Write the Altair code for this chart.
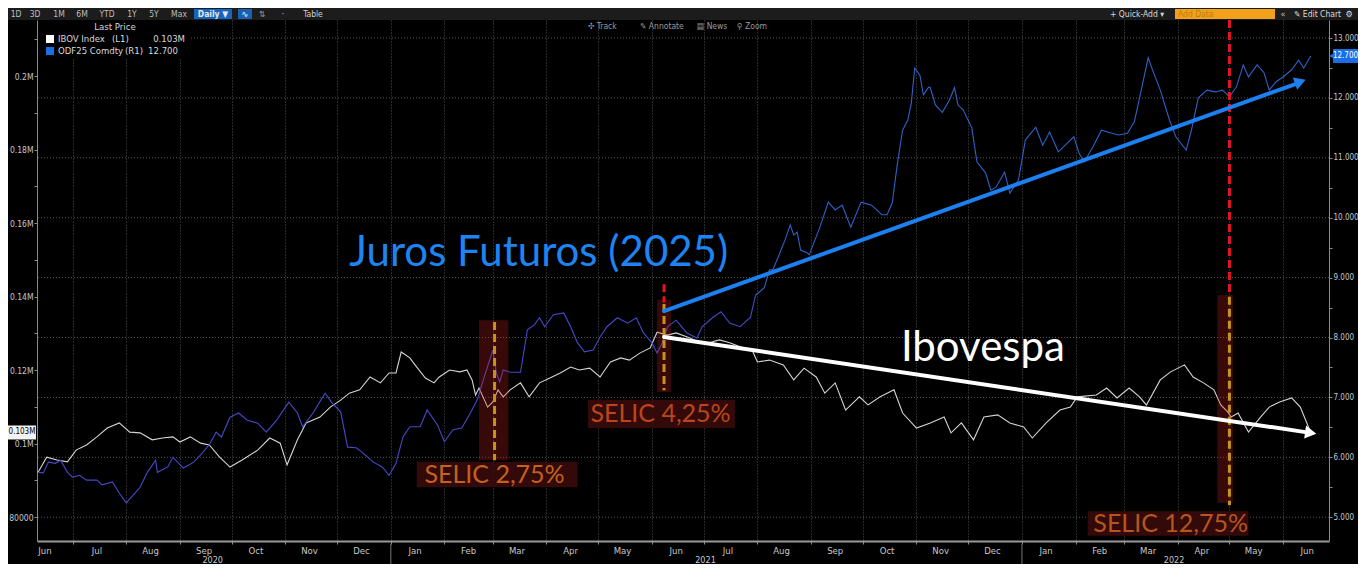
import altair as alt
import pandas as pd

# ---------------- data ----------------
ibov_dates = [
    "2020-06-11", "2020-06-16", "2020-06-22", "2020-06-28", "2020-07-03", "2020-07-09", "2020-07-15",
    "2020-07-21", "2020-07-28", "2020-08-03", "2020-08-09", "2020-08-16", "2020-08-22", "2020-08-28",
    "2020-09-01", "2020-09-07", "2020-09-13", "2020-09-18", "2020-09-24", "2020-09-30", "2020-10-07",
    "2020-10-16", "2020-10-23", "2020-10-29", "2020-11-02", "2020-11-08", "2020-11-13", "2020-11-21",
    "2020-11-27", "2020-12-03", "2020-12-08", "2020-12-14", "2020-12-20", "2020-12-26", "2020-12-31",
    "2021-01-04", "2021-01-07", "2021-01-12", "2021-01-16", "2021-01-21", "2021-01-26", "2021-01-29",
    "2021-02-04", "2021-02-10", "2021-02-14", "2021-02-17", "2021-02-19", "2021-02-21", "2021-02-26",
    "2021-03-01", "2021-03-04", "2021-03-07", "2021-03-11", "2021-03-17", "2021-03-22", "2021-03-28",
    "2021-04-03", "2021-04-09", "2021-04-15", "2021-04-20", "2021-04-26", "2021-05-02", "2021-05-08",
    "2021-05-14", "2021-05-19", "2021-05-25", "2021-05-31", "2021-06-04", "2021-06-10", "2021-06-15",
    "2021-06-23", "2021-06-29", "2021-07-04", "2021-07-10", "2021-07-16", "2021-07-22", "2021-07-29",
    "2021-08-01", "2021-08-08", "2021-08-16", "2021-08-22", "2021-08-28", "2021-09-04", "2021-09-09",
    "2021-09-15", "2021-09-21", "2021-09-29", "2021-10-04", "2021-10-11", "2021-10-19", "2021-10-24",
    "2021-11-01", "2021-11-09", "2021-11-17", "2021-11-21", "2021-11-27", "2021-12-04", "2021-12-10",
    "2021-12-18", "2021-12-25", "2022-01-02", "2022-01-07", "2022-01-15", "2022-01-23", "2022-01-29",
    "2022-02-02", "2022-02-13", "2022-02-19", "2022-02-25", "2022-03-04", "2022-03-10", "2022-03-14",
    "2022-03-22", "2022-03-28", "2022-04-05", "2022-04-10", "2022-04-16", "2022-04-22", "2022-04-26",
    "2022-04-30", "2022-05-02", "2022-05-06", "2022-05-12", "2022-05-19", "2022-05-24", "2022-05-30",
    "2022-06-06", "2022-06-11", "2022-06-17",
]
ibov_values = [
    92200, 96300, 95500, 95000, 98200, 99600, 101800,
    104200, 105600, 103100, 102900, 101000, 101500, 101800,
    100400, 101800, 100100, 99600, 96300, 93600, 95500,
    98200, 101500, 100100, 94200, 101000, 105600, 107200,
    109900, 111800, 113700, 114600, 118100, 116500, 119200,
    119200, 124900, 123300, 120800, 117800, 116500, 118100,
    120000, 119500, 120000, 117300, 113200, 115100, 109900,
    111300, 114600, 112700, 114600, 116500, 112700, 116500,
    117800, 119200, 120800, 120000, 120500, 118100, 122200,
    123300, 122700, 124600, 126000, 130300, 129500, 130100,
    128700, 127400, 127400, 128200, 127400, 126300, 125400,
    122200, 122700, 121400, 117300, 120500, 118100, 113700,
    116500, 109100, 112700, 110500, 112700, 114600, 108300,
    104200, 105600, 107200, 102900, 105600, 101000, 107200,
    107800, 105600, 104500, 101500, 105600, 109100, 109900,
    112700, 113200, 115100, 112400, 115100, 112700, 110500,
    117300, 119500, 121400, 118100, 116500, 114600, 110500,
    108600, 107200, 108300, 103100, 107200, 109900, 111300,
    112400, 109900, 103000,
]

odf_dates = [
    "2020-06-11", "2020-06-14", "2020-06-17", "2020-06-21", "2020-06-24", "2020-06-28", "2020-07-01",
    "2020-07-05", "2020-07-09", "2020-07-15", "2020-07-18", "2020-07-24", "2020-07-28", "2020-08-01",
    "2020-08-05", "2020-08-09", "2020-08-13", "2020-08-18", "2020-08-19", "2020-08-25", "2020-08-28",
    "2020-09-03", "2020-09-09", "2020-09-13", "2020-09-18", "2020-09-22", "2020-09-25", "2020-09-30",
    "2020-10-05", "2020-10-10", "2020-10-16", "2020-10-21", "2020-10-27", "2020-11-03", "2020-11-08",
    "2020-11-11", "2020-11-17", "2020-11-24", "2020-11-28", "2020-12-03", "2020-12-07", "2020-12-12",
    "2020-12-16", "2020-12-22", "2020-12-27", "2020-12-31", "2021-01-04", "2021-01-08", "2021-01-12",
    "2021-01-18", "2021-01-22", "2021-01-28", "2021-02-01", "2021-02-06", "2021-02-11", "2021-02-16",
    "2021-02-20", "2021-02-24", "2021-03-01", "2021-03-03", "2021-03-05", "2021-03-07", "2021-03-11",
    "2021-03-17", "2021-03-21", "2021-03-25", "2021-03-28", "2021-03-31", "2021-04-05", "2021-04-11",
    "2021-04-15", "2021-04-19", "2021-04-23", "2021-04-28", "2021-05-02", "2021-05-06", "2021-05-12",
    "2021-05-18", "2021-05-23", "2021-05-27", "2021-06-01", "2021-06-04", "2021-06-07", "2021-06-10",
    "2021-06-15", "2021-06-21", "2021-06-27", "2021-06-30", "2021-07-06", "2021-07-11", "2021-07-16",
    "2021-07-22", "2021-07-28", "2021-07-31", "2021-08-05", "2021-08-08", "2021-08-10", "2021-08-14",
    "2021-08-17", "2021-08-20", "2021-08-22", "2021-08-24", "2021-08-26", "2021-08-30", "2021-08-31",
    "2021-09-04", "2021-09-06", "2021-09-11", "2021-09-15", "2021-09-19", "2021-09-24", "2021-09-30",
    "2021-10-06", "2021-10-12", "2021-10-15", "2021-10-18", "2021-10-21", "2021-10-24", "2021-10-27",
    "2021-10-29", "2021-10-31", "2021-11-03", "2021-11-05", "2021-11-08", "2021-11-09", "2021-11-12",
    "2021-11-16", "2021-11-20", "2021-11-23", "2021-11-25", "2021-11-28", "2021-12-03", "2021-12-06",
    "2021-12-11", "2021-12-14", "2021-12-17", "2021-12-22", "2021-12-25", "2021-12-30", "2022-01-03",
    "2022-01-09", "2022-01-13", "2022-01-17", "2022-01-22", "2022-01-26", "2022-01-31", "2022-02-03",
    "2022-02-06", "2022-02-11", "2022-02-16", "2022-02-22", "2022-02-26", "2022-03-03", "2022-03-07",
    "2022-03-11", "2022-03-15", "2022-03-18", "2022-03-22", "2022-03-27", "2022-03-31", "2022-04-06",
    "2022-04-09", "2022-04-13", "2022-04-18", "2022-04-23", "2022-04-27", "2022-05-01", "2022-05-05",
    "2022-05-09", "2022-05-12", "2022-05-17", "2022-05-21", "2022-05-24", "2022-05-28", "2022-06-01",
    "2022-06-06", "2022-06-10", "2022-06-13", "2022-06-17",
]
odf_values = [
    5.75, 5.74, 5.92, 5.90, 5.95, 5.75, 5.67,
    5.70, 5.62, 5.62, 5.54, 5.59, 5.40, 5.24,
    5.37, 5.50, 5.74, 5.95, 5.75, 5.84, 6.00,
    5.82, 5.92, 6.04, 6.21, 6.42, 6.34, 6.67,
    6.74, 6.62, 6.57, 6.42, 6.62, 6.92, 6.74,
    6.51, 6.74, 7.07, 6.91, 6.76, 6.17, 6.16,
    6.07, 5.92, 5.84, 5.70, 5.90, 6.34, 6.51,
    6.51, 6.79, 6.54, 6.26, 6.46, 6.49, 6.74,
    6.96, 7.34, 7.79, 7.41, 7.26, 7.46, 7.42,
    7.42, 8.13, 8.21, 8.33, 8.18, 8.38, 8.41,
    8.18, 7.91, 7.76, 7.79, 8.01, 8.18, 8.33,
    8.24, 8.33, 8.08, 7.91, 7.74, 7.91, 8.18,
    8.29, 8.08, 7.99, 8.18, 8.33, 8.43, 8.24,
    8.18, 8.34, 8.71, 8.83, 9.13, 9.13, 9.41,
    9.63, 9.88, 9.71, 9.76, 9.46, 9.41, 9.38,
    9.68, 9.83, 10.26, 10.13, 10.21, 9.84, 10.26,
    10.21, 10.05, 10.05, 10.25, 10.91, 11.46, 11.63,
    11.91, 12.50, 12.38, 12.05, 12.18, 12.17, 11.88,
    11.76, 11.96, 12.17, 11.88, 11.80, 11.50, 10.93,
    10.75, 10.46, 10.51, 10.76, 10.41, 10.63, 11.30,
    11.51, 11.21, 11.43, 11.10, 11.21, 11.35, 11.08,
    10.93, 11.18, 11.46, 11.41, 11.38, 11.41, 11.60,
    12.13, 12.67, 12.43, 12.13, 11.66, 11.35, 11.13,
    11.46, 12.00, 12.13, 12.10, 12.13, 12.02, 12.18,
    12.55, 12.35, 12.55, 12.42, 12.13, 12.27, 12.35,
    12.47, 12.63, 12.50, 12.70,
]
odf_colour_change = "2021-07-31"

# axis ticks / labels
left_tick_values = list(range(80000, 210001, 10000))
right_tick_values = [5.0, 5.5, 6.0, 6.5, 7.0, 7.5, 8.0, 8.5, 9.0, 9.5, 10.0, 10.5, 11.0, 11.5, 12.0, 12.5, 13.0]
right_grid_values = [5, 6, 7, 8, 9, 10, 11, 12, 13]
month_labels = ["Jun", "Jul", "Aug", "Sep", "Oct", "Nov", "Dec", "Jan", "Feb", "Mar", "Apr", "May",
                "Jun", "Jul", "Aug", "Sep", "Oct", "Nov", "Dec", "Jan", "Feb", "Mar", "Apr", "May", "Jun"]
year_labels = ["2020", "2021", "2022"]
year_label_dates = ["2020-09-20", "2021-07-02", "2022-03-30"]
year_break_dates = ["2021-01-01", "2022-01-01"]

last_ibov = [103000]
last_ibov_text = ["0.103M"]
last_odf = [12.70]
last_odf_text = ["12.700"]

# SELIC annotations (right-axis units)
selic_labels = ["SELIC 2,75%", "SELIC 4,25%", "SELIC 12,75%"]
selic_label_dates = ["2021-03-02", "2021-06-06", "2022-03-28"]
selic_label_values = [5.71, 6.72, 4.89]
selic_label_colors = ["#c2621f", "#b9461c", "#b5561e"]
selic_box_start = ["2021-01-16", "2021-04-25", "2022-02-08"]
selic_box_end = ["2021-04-19", "2021-07-19", "2022-05-12"]
selic_box_top = [5.92, 6.96, 5.10]
selic_box_bottom = [5.50, 6.49, 4.69]
band_start = ["2021-02-21", "2021-06-04", "2022-04-24"]
band_end = ["2021-03-10", "2021-06-12", "2022-05-03"]
band_top = [8.29, 8.63, 8.71]
band_bottom = [5.95, 7.09, 5.24]
gold_dates = ["2021-03-02", "2021-06-08", "2022-05-01"]
gold_top = [8.26, 8.56, 8.68]
gold_bottom = [5.95, 7.12, 5.20]
red_dates = ["2021-06-08", "2022-05-01"]
red_top = [8.89, 13.30]
red_bottom = [8.59, 8.71]

# trend arrows
blue_arrow_dates = ["2021-06-08", "2022-06-09"]
blue_arrow_values = [8.44, 12.24]
blue_head_date = ["2022-06-11"]
blue_head_value = [12.27]
white_arrow_dates = ["2021-06-08", "2022-06-14"]
white_arrow_values = [129000, 103100]
white_head_date = ["2022-06-17"]
white_head_value = [102900]

title_juros = ["Juros Futuros (2025)"]
title_juros_date = ["2020-12-08"]
title_juros_value = [9.19]
title_ibov = ["Ibovespa"]
title_ibov_date = ["2021-10-23"]
title_ibov_value = [7.61]

# ---------------- chart ----------------
W, H = 1292, 521
FONT_UI = "Liberation Sans Narrow, DejaVu Sans Condensed, Roboto Condensed, Liberation Sans, sans-serif"
FONT_ANN = "Lato"

ibov_scale = alt.Scale(domain=[73474, 215238], nice=False, zero=False)
odf_scale = alt.Scale(domain=[4.603, 13.3005], nice=False, zero=False)
x_scale = alt.Scale(domain=[alt.DateTime(year=2020, month=6, date=10, hours=9),
                            alt.DateTime(year=2022, month=6, date=27, hours=14)])
month_starts = pd.date_range("2020-07-01", "2022-06-01", freq="MS")
x_axis = alt.Axis(values=[alt.DateTime(year=int(d.year), month=int(d.month), date=1) for d in month_starts],
                  labels=False, ticks=True, tickSize=3, tickColor="#8a8a8a",
                  domainColor="#9a9a9a", domainWidth=2, grid=True, gridColor="#555555",
                  gridDash=[1, 2], gridWidth=1, title=None)


def X(field):
    return alt.X(f"{field}:T", scale=x_scale, axis=x_axis)


def YI(field, axis=None):
    return alt.Y(f"{field}:Q", scale=ibov_scale, axis=axis)


def YO(field, axis=None):
    return alt.Y(f"{field}:Q", scale=odf_scale, axis=axis)


left_axis = alt.Axis(orient="left", values=left_tick_values,
                     labelExpr="datum.value % 20000 == 0 ? (datum.value >= 100000 ? format(datum.value / 1000000, '.2~f') + 'M' : format(datum.value, 'd')) : ''",
                     tickSize=3, labelPadding=1, tickColor="#8a8a8a", domainColor="#8a8a8a",
                     labelColor="#c8c8c8", labelFont=FONT_UI, labelFontSize=8.5, grid=False, title=None)
right_axis = alt.Axis(orient="right", values=right_tick_values,
                      labelExpr="datum.value % 1 == 0 ? format(datum.value, '.3f') : ''",
                      tickSize=3, labelPadding=1, tickColor="#8a8a8a", domainColor="#8a8a8a",
                      labelColor="#c8c8c8", labelFont=FONT_UI, labelFontSize=8, grid=False, title=None)

df_ibov = pd.DataFrame({"date": pd.to_datetime(ibov_dates), "v": ibov_values})
df_odf = pd.DataFrame({"date": pd.to_datetime(odf_dates), "v": odf_values})
cut = pd.Timestamp(odf_colour_change)
df_odf_a = df_odf[df_odf["date"] <= cut]
df_odf_b = df_odf[df_odf["date"] >= cut]

layers = []

# horizontal grid (right-axis units)
layers.append(alt.Chart(pd.DataFrame({"v": right_grid_values})).mark_rule(
    color="#555555", strokeDash=[1, 2], strokeWidth=1).encode(y=YO("v")))

# series
layers.append(alt.Chart(df_ibov).mark_line(color="#d4d4d4", strokeWidth=1.1, clip=True).encode(
    x=X("date"), y=YI("v", left_axis)))
layers.append(alt.Chart(df_odf_a).mark_line(color="#4649c8", strokeWidth=1.1, clip=True).encode(
    x=X("date"), y=YO("v", right_axis)))
layers.append(alt.Chart(df_odf_b).mark_line(color="#2f62c8", strokeWidth=1.1, clip=True).encode(
    x=X("date"), y=YO("v")))

# SELIC highlight bands
df_band = pd.DataFrame({"s": pd.to_datetime(band_start), "e": pd.to_datetime(band_end),
                        "t": band_top, "b": band_bottom})
layers.append(alt.Chart(df_band).mark_rect(color="#d02020", opacity=0.27).encode(
    x=X("s"), x2="e", y=YO("t"), y2="b"))
df_gold = pd.DataFrame({"d": pd.to_datetime(gold_dates), "t": gold_top, "b": gold_bottom})
layers.append(alt.Chart(df_gold).mark_rule(color="#c8921e", strokeWidth=3, strokeDash=[8, 4]).encode(
    x=X("d"), y=YO("t"), y2="b"))
df_red = pd.DataFrame({"d": pd.to_datetime(red_dates), "t": red_top, "b": red_bottom})
layers.append(alt.Chart(df_red).mark_rule(color="#e8141e", strokeWidth=3, strokeDash=[8, 4], clip=True).encode(
    x=X("d"), y=YO("t"), y2="b"))

# SELIC labels
df_box = pd.DataFrame({"s": pd.to_datetime(selic_box_start), "e": pd.to_datetime(selic_box_end),
                       "t": selic_box_top, "b": selic_box_bottom})
layers.append(alt.Chart(df_box).mark_rect(color="#3a0a0a", opacity=0.9).encode(
    x=X("s"), x2="e", y=YO("t"), y2="b"))
df_sl = pd.DataFrame({"d": pd.to_datetime(selic_label_dates), "v": selic_label_values,
                      "t": selic_labels, "c": selic_label_colors})
layers.append(alt.Chart(df_sl).mark_text(font=FONT_ANN, fontSize=25, align="center", baseline="middle").encode(
    x=X("d"), y=YO("v"), text="t:N", color=alt.Color("c:N", scale=None)))

# trend arrows
df_ba = pd.DataFrame({"x0": [pd.Timestamp(blue_arrow_dates[0])], "x1": [pd.Timestamp(blue_arrow_dates[1])],
                      "y0": [blue_arrow_values[0]], "y1": [blue_arrow_values[1]]})
layers.append(alt.Chart(df_ba).mark_rule(color="#1d80f0", strokeWidth=4, strokeCap="round").encode(
    x=X("x0"), x2="x1", y=YO("y0"), y2="y1"))
layers.append(alt.Chart(pd.DataFrame({"d": pd.to_datetime(blue_head_date), "v": blue_head_value})).mark_point(
    shape="triangle-right", filled=True, size=170, angle=340.3, color="#1d80f0", opacity=1).encode(
    x=X("d"), y=YO("v")))
df_wa = pd.DataFrame({"x0": [pd.Timestamp(white_arrow_dates[0])], "x1": [pd.Timestamp(white_arrow_dates[1])],
                      "y0": [white_arrow_values[0]], "y1": [white_arrow_values[1]]})
layers.append(alt.Chart(df_wa).mark_rule(color="#ffffff", strokeWidth=4, strokeCap="round").encode(
    x=X("x0"), x2="x1", y=YI("y0"), y2="y1"))
layers.append(alt.Chart(pd.DataFrame({"d": pd.to_datetime(white_head_date), "v": white_head_value})).mark_point(
    shape="triangle-right", filled=True, size=170, angle=8.4, color="#ffffff", opacity=1).encode(
    x=X("d"), y=YI("v")))

# big annotation texts
layers.append(alt.Chart(pd.DataFrame({"d": pd.to_datetime(title_juros_date), "v": title_juros_value,
                                      "t": title_juros})).mark_text(
    font=FONT_ANN, fontSize=42, align="left", baseline="alphabetic", color="#1d84f2").encode(
    x=X("d"), y=YO("v"), text="t:N"))
layers.append(alt.Chart(pd.DataFrame({"d": pd.to_datetime(title_ibov_date), "v": title_ibov_value,
                                      "t": title_ibov})).mark_text(
    font=FONT_ANN, fontSize=42, align="left", baseline="alphabetic", color="#ffffff").encode(
    x=X("d"), y=YO("v"), text="t:N"))


# ---------- UI chrome ----------
def ui_rect(x, x2, y, y2, color):
    return alt.Chart(pd.DataFrame({"k": [0]})).mark_rect(color=color).encode(
        x=alt.value(x), x2=alt.value(x2), y=alt.value(y), y2=alt.value(y2))


def ui_text(t, x, y, size=9, color="#c8c8c8", align="left", weight="normal", font=FONT_UI):
    return alt.Chart(pd.DataFrame({"t": [t]})).mark_text(
        align=align, baseline="middle", fontSize=size, color=color, font=font, fontWeight=weight).encode(
        x=alt.value(x), y=alt.value(y), text="t:N")


# legend box
layers.append(ui_rect(1, 153, 0, 38, "#000000"))
layers.append(ui_text("Last Price", 78, 7, 9.5, "#d8d8d8", "center"))
layers.append(ui_rect(9, 17, 15, 23, "#ffffff"))
layers.append(ui_text("IBOV Index", 21, 19, 9.5, "#d8d8d8"))
layers.append(ui_text("(L1)", 75, 19, 9.5, "#d8d8d8"))
layers.append(ui_text("0.103M", 148, 19, 9.5, "#d8d8d8", "right"))
layers.append(ui_rect(9, 17, 27, 35, "#1a6ee8"))
layers.append(ui_text("ODF25 Comdty", 21, 31, 9.5, "#d8d8d8"))
layers.append(ui_text("(R1)", 88, 31, 9.5, "#d8d8d8"))
layers.append(ui_text("12.700", 141, 31, 9.5, "#d8d8d8", "right"))

# last-price tags on the axes
df_tl = pd.DataFrame({"v": last_ibov, "t": last_ibov_text})
layers.append(alt.Chart(df_tl).mark_rect(color="#f2f2f2", yOffset=-7, y2Offset=7).encode(
    x=alt.value(-29), x2=alt.value(-1), y=YI("v"), y2="v"))
layers.append(alt.Chart(df_tl).mark_text(color="#000000", fontSize=8, font=FONT_UI,
                                         align="center", baseline="middle").encode(
    x=alt.value(-15), y=YI("v"), text="t:N"))
df_tr = pd.DataFrame({"v": last_odf, "t": last_odf_text})
layers.append(alt.Chart(df_tr).mark_point(shape="triangle-left", filled=True, size=45, color="#1a6ee8",
                                          opacity=1).encode(x=alt.value(W + 3), y=YO("v")))
layers.append(alt.Chart(df_tr).mark_rect(color="#1a6ee8", yOffset=-7, y2Offset=7).encode(
    x=alt.value(W + 4), x2=alt.value(W + 29), y=YO("v"), y2="v"))
layers.append(alt.Chart(df_tr).mark_text(color="#ffffff", fontSize=8, font=FONT_UI,
                                         align="center", baseline="middle").encode(
    x=alt.value(W + 16.5), y=YO("v"), text="t:N"))

# x-axis month and year labels
mid_months = pd.date_range("2020-06-01", "2022-06-01", freq="MS") + pd.Timedelta(days=14)
df_months = pd.DataFrame({"d": mid_months, "t": month_labels})
layers.append(alt.Chart(df_months).mark_text(color="#c8c8c8", fontSize=9.5, font=FONT_UI,
                                             align="center", baseline="middle").encode(
    x=X("d"), y=alt.value(H + 10), text="t:N"))
df_years = pd.DataFrame({"d": pd.to_datetime(year_label_dates), "t": year_labels})
layers.append(alt.Chart(df_years).mark_text(color="#c8c8c8", fontSize=9, font=FONT_UI,
                                            align="center", baseline="middle").encode(
    x=X("d"), y=alt.value(H + 18.5), text="t:N"))
df_breaks = pd.DataFrame({"d": pd.to_datetime(year_break_dates)})
layers.append(alt.Chart(df_breaks).mark_rule(color="#777777", strokeWidth=1).encode(
    x=X("d"), y=alt.value(H + 3), y2=alt.value(H + 23)))

# toolbar
layers.append(ui_rect(-29, W + 29, -12, 0, "#1c1c1c"))
for lab, cx in [("1D", -21), ("3D", -2), ("1M", 22), ("6M", 45), ("YTD", 70), ("1Y", 95), ("5Y", 117), ("Max", 142)]:
    layers.append(ui_text(lab, cx, -6, 8.5, "#bdbdbd", "center"))
layers.append(ui_rect(157, 195, -11, -1, "#1565c0"))
layers.append(ui_text("Daily \u25bc", 176, -6, 8.5, "#e8e8e8", "center", "bold"))
layers.append(ui_rect(201, 215, -11, -1, "#1a5fb4"))
layers.append(ui_text("\u223f", 208, -6, 9, "#ffffff", "center"))
layers.append(ui_text("\u21c5", 225, -6, 8.5, "#9a9a9a", "center"))
layers.append(ui_text("\u00b7", 246, -6, 9, "#bdbdbd", "center"))
layers.append(ui_text("Table", 276, -6, 8.5, "#d0d0d0", "center"))
layers.append(ui_text("+ Quick-Add \u25be", 1073, -6, 8.5, "#d8d8d8"))
layers.append(ui_rect(1138, 1238, -11, -1, "#f2a11c"))
layers.append(ui_text("Add Data", 1141, -6, 8.5, "#c27a0c"))
layers.append(ui_text("\u00ab", 1246, -6, 9, "#bdbdbd", "center"))
layers.append(ui_text("\u270e Edit Chart", 1257, -6, 8.5, "#d8d8d8"))
layers.append(ui_text("\u2699", 1312, -6, 9, "#d8d8d8", "center"))
for lab, lx in [("\u2723 Track", 551), ("\u270e Annotate", 603), ("\u25a4 News", 660), ("\u26b2 Zoom", 700)]:
    layers.append(ui_text(lab, lx, 6, 8.5, "#9a9a9a"))

chart = alt.layer(*layers).resolve_scale(y="independent").properties(
    width=W, height=H,
    padding={"left": 29, "top": 12, "right": 29, "bottom": 23},
    autosize=alt.AutoSizeParams(type="none"),
    background="#000000",
).configure_view(stroke=None)

chart.save("out.html", embed_options={"renderer": "svg", "actions": False})
